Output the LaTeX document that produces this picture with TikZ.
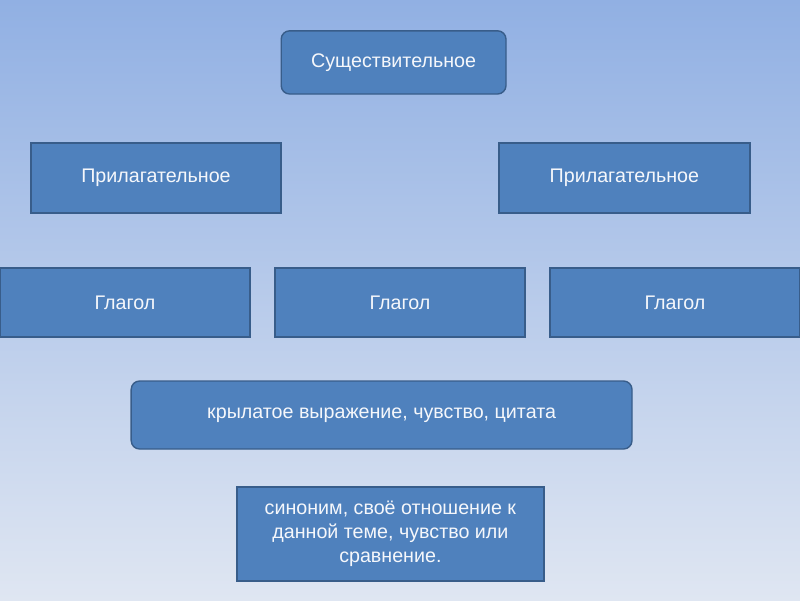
\documentclass[tikz,border=0pt]{standalone}
\usepackage{fontspec}
\setmainfont{Liberation Sans}
\usepackage{xcolor}
\definecolor{boxfill}{HTML}{4F81BD}
\definecolor{boxline}{HTML}{385D8A}
\definecolor{bgtop}{HTML}{91B0E3}
\definecolor{bgbottom}{HTML}{DFE6F2}
\usetikzlibrary{positioning}

\begin{document}
\begin{tikzpicture}[
    card/.style={draw=boxline, fill=boxfill, line width=1pt, align=center, text=white!94!boxfill, font=\fontsize{14}{17}\selectfont, inner sep=4pt, minimum height=1.73cm},
    roundcard/.style={card, rounded corners=6pt}
]

% Background
\shade[top color=bgtop, bottom color=bgbottom] (0,0) rectangle (20,-15);
\useasboundingbox (0,0) rectangle (20,-15);
\clip (0,0) rectangle (20,-15);

% Top
\node[roundcard, minimum width=5.62cm, minimum height=1.58cm] (noun) at (9.84,-1.56) {Существительное};

% Adjectives
\node[card, minimum width=6.25cm, minimum height=1.75cm] (adjleft) at (3.9,-4.45) {Прилагательное};
\node[card, minimum width=6.27cm, minimum height=1.75cm] (adjright) at (15.61,-4.45) {Прилагательное};

% Verbs
\node[card, minimum width=6.25cm] (verb1) at (3.125,-7.56) {Глагол};
\node[card, minimum width=6.25cm] (verb2) at (10,-7.56) {Глагол};
\node[card, minimum width=6.25cm] (verb3) at (16.875,-7.56) {Глагол};

% Bottom
\node[roundcard, minimum width=12.52cm, minimum height=1.7cm] (phrase) at (9.54,-10.375) {крылатое выражение, чувство, цитата};
\node[card, minimum width=7.67cm, minimum height=2.35cm] (synonym) at (9.76,-13.35) {синоним, своё отношение к\\данной теме, чувство или\\сравнение.};

\end{tikzpicture}
\end{document}
